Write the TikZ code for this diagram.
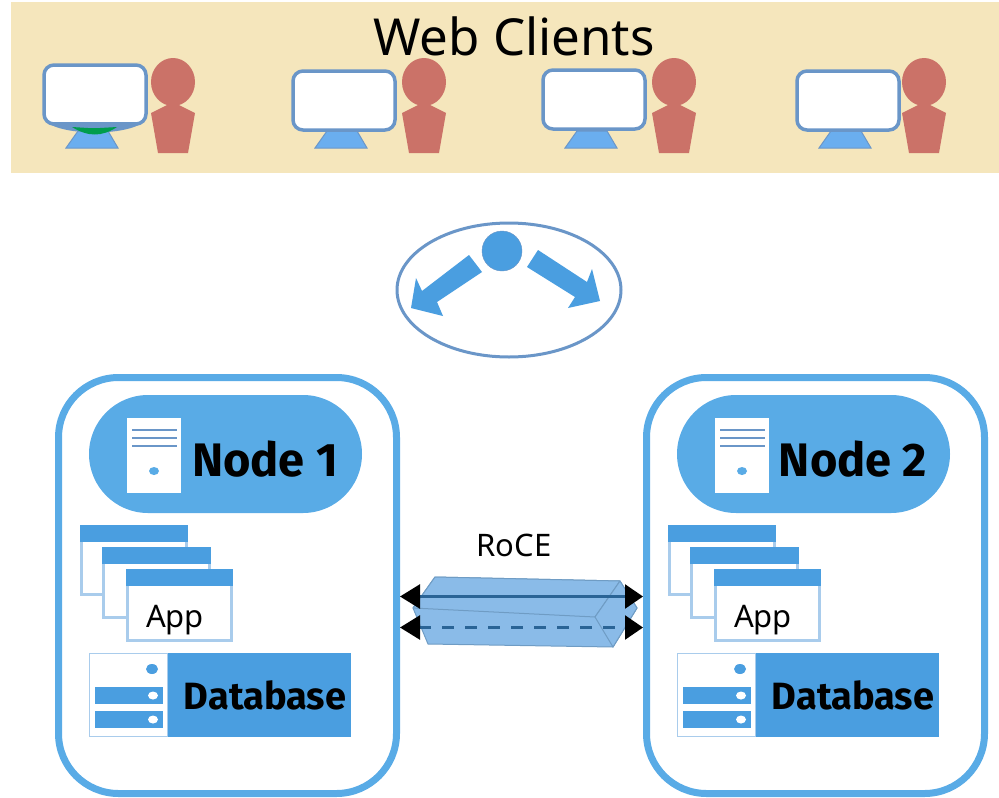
\documentclass[tikz,border=0pt]{standalone}
\usepackage{fontspec}
\setmainfont{Noto Sans}
\newfontfamily\boldfont{Fira Sans}
\usetikzlibrary{arrows.meta}
\definecolor{bannerbg}{HTML}{F5E6BC}
\definecolor{personred}{HTML}{CB7268}
\definecolor{screenline}{HTML}{6A96C8}
\definecolor{standblue}{HTML}{6AAEEF}
\definecolor{skyblue}{HTML}{59ABE6}
\definecolor{barblue}{HTML}{4A9EE0}
\definecolor{paleblue}{HTML}{A9CCEC}
\definecolor{tubeblue}{HTML}{8ABBE8}
\definecolor{tubeedge}{HTML}{6F9CC4}
\definecolor{linkblue}{HTML}{2A6496}
\tikzset{
  screen/.style={draw=screenline,line width=3.5pt,fill=white,rounded corners=10pt},
  stand/.style={fill=standblue,draw=screenline,line width=1pt},
  frame/.style={draw=skyblue,line width=7pt,rounded corners=60pt,minimum width=338pt,minimum height=416pt,inner sep=0pt},
  winbox/.style={draw=paleblue,line width=3pt,fill=white},
  tube/.style={fill=tubeblue,draw=tubeedge,line width=1pt,line join=round},
  link/.style={draw=linkblue,line width=2.5pt,{Triangle[black,length=20pt,width=24pt]}-{Triangle[black,length=18pt,width=24pt]}},
}
\begin{document}
\begin{tikzpicture}[x=1pt,y=-1pt]
\useasboundingbox (0,0) rectangle (999,798);

% Clients banner
\fill[bannerbg] (11,2) rectangle (999,173);
\node[anchor=base,inner sep=0pt,font=\fontsize{51}{51}\selectfont] (webclients) at (514,55) {Web Clients};

% Screens and people
\foreach \x/\y/\p in {44/65/129, 293/71/380, 543/70/630, 797/71/880} {
    \draw[stand] (\x+22,148) -- (\x+74,148) -- (\x+64,131) -- (\x+34,131) -- cycle;
    \draw[screen] (\x,\y) rectangle (\x+102,\y+59);
    \fill[personred] (\p+44,82) ellipse (22 and 24);
    \fill[personred] (\p+44,102) -- (\p+66,113) -- (\p+59,153) -- (\p+29,153) -- (\p+22,113) -- cycle;
}

% Curved foot under the first screen
\fill[screenline] (46,122) -- (144,122) .. controls (125,136) and (65,136) .. (46,122) -- cycle;
\fill[green!45!black!70!cyan] (72,127) .. controls (88,137) and (102,137) .. (117,127) -- (100,128) -- (88,128) -- cycle;

% Load balancer
\draw[screenline,line width=3pt,fill=white] (509,290) ellipse (112 and 67);
\fill[barblue,draw=screenline] (502,251) circle (20);
\fill[barblue] (469,255) -- (482,272) -- (437,302) -- (443,316) -- (411,308) -- (416,278) -- (422,291) -- cycle;
\fill[barblue] (538,250) -- (527,267) -- (575,297) -- (568,308) -- (600,301) -- (592,269) -- (587,282) -- cycle;

% Cluster nodes
\foreach \x/\n/\name in {0/1/A, 588/2/B} {
\begin{scope}[xshift=\x pt]
    \node[frame] (frame\name) at (227.5,585.5) {};

    % Server pill
    \fill[skyblue] (89,395) [rounded corners=59pt] rectangle (362,513);
    \fill[white] (127,418) rectangle (181,493);
    \foreach \y in {430,438,446} {
        \draw[screenline,line width=2pt] (132,\y) -- (177,\y);
    }
    \fill[skyblue] (154,471) ellipse (5 and 4);
    \node[anchor=base,inner sep=0pt,font=\fontsize{47}{47}\boldfont\bfseries] (server\name) at (265,476) {Node \n};

    % Application windows
    \foreach \l/\t/\r/\b in {80/525/188/596, 102/547/211/619, 126/569/233/642} {
        \draw[winbox] (\l+1.5,\t+1.5) rectangle (\r-1.5,\b-1.5);
        \fill[barblue] (\l,\t) rectangle (\r,\t+17);
    }
    \node[anchor=base,inner sep=0pt,font=\fontsize{31}{31}\selectfont] (app\name) at (175,627) {App};

    % Database
    \fill[barblue] (167,653) rectangle (351,737);
    \draw[paleblue,line width=1pt,fill=white] (89.5,653.5) rectangle (167,736.5);
    \fill[barblue] (152,669) ellipse (6 and 5);
    \foreach \y in {687,711} {
        \fill[barblue] (95,\y) rectangle (163,\y+17);
        \fill[white] (153,\y+8.5) ellipse (5 and 4);
    }
    \node[anchor=base,inner sep=0pt,font=\fontsize{38}{38}\boldfont\bfseries] (db\name) at (265,709) {Database};
\end{scope}
}

% RoCE link
\node[anchor=base,inner sep=0pt,font=\fontsize{31}{31}\selectfont] (roce) at (514,556) {RoCE};
\draw[tube] (435,577) -- (620,581) -- (637,608) -- (613,647) -- (428,644) -- (413,608) -- cycle;
\draw[tube] (413,608) -- (435,577) -- (620,581) -- (595,617) -- cycle;
\draw[tube] (595,617) -- (620,581) -- (637,608) -- (613,647) -- cycle;
\draw[link] ([yshift=-11pt]frameA.east) -- ([yshift=-11pt]frameB.west);
\draw[link,dash pattern=on 12pt off 11pt] ([yshift=-42pt]frameA.east) -- ([yshift=-42pt]frameB.west);

\end{tikzpicture}
\end{document}
